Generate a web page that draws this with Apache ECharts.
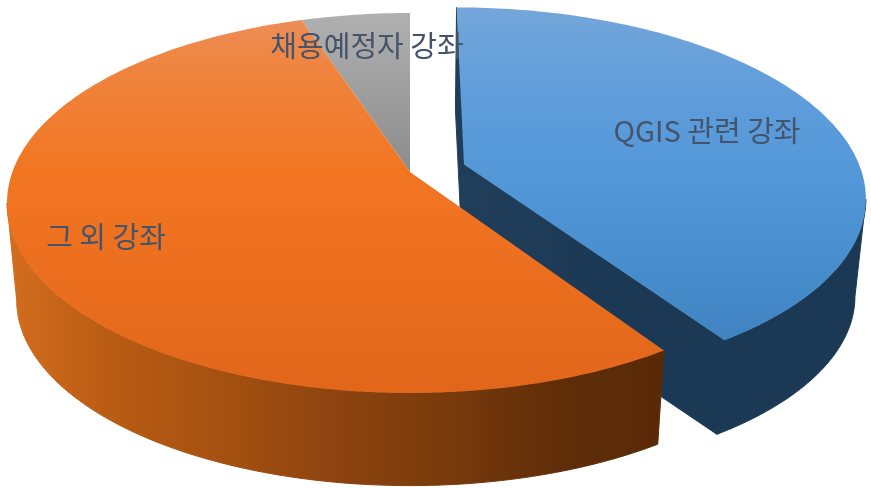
<!DOCTYPE html>
<html><head><meta charset="utf-8">
<style>html,body{margin:0;padding:0;background:#fff}#c{width:871px;height:488px}</style>
<script src="https://cdn.jsdelivr.net/npm/echarts@6/dist/echarts.min.js"></script>
</head><body><div id="c"></div>
<script>
const categories = ['QGIS 관련 강좌', '그 외 강좌', '채용예정자 강좌'];
const shares = [40.7, 54.2, 5.1];
const explode = [0.143, 0, 0];

const drawOrder = [1, 3, 2];
const labelAt = [[707, 131], [106, 237], [367, 46]];
const topStops = [
  [[0, '#74a6da'], [0.3, '#5d9cdb'], [0.55, '#5197d7'], [1, '#3f83c2']],
  [[0, '#ee8d58'], [0.12, '#ef8540'], [0.4, '#f27622'], [1, '#e2661a']],
  [[0, '#b0b0b0'], [1, '#8c8c8c']]
];
const topRange = [[7, 342], [20, 393], [13, 172]];
const wallRange = [[460, 870], [10, 660], [300, 410]];
const wallStops = [
  [[0, '#203e59'], [0.4, '#1b3954'], [1, '#1b3954']],
  [[0, '#d36d1f'], [0.14, '#bb5d14'], [0.35, '#a24f10'], [0.49, '#8f4410'], [0.66, '#7a3b0c'], [0.85, '#5f2d08'], [1, '#5a2a08']],
  [[0, '#6e6e6e'], [1, '#6e6e6e']]
];

const P = {cx: 410, cy: 172, cy2: 270, a: 397.6, b: 184.9, k: 0.163, low: 0.976};
function project(p, u, bottom) {
  const s = 1 / (1 - P.k * u), f = bottom ? P.low : 1;
  return [P.cx + P.a * f * p * s, (bottom ? P.cy2 : P.cy) + P.b * f * u * s];
}
const total = shares.reduce((s, v) => s + v, 0);
const grad = (x1, y1, x2, y2, stops) => new echarts.graphic.LinearGradient(
  x1, y1, x2, y2, stops.map(s => ({offset: s[0], color: s[1]})), true);

function renderItem(params, api) {
  const idx = params.dataIndex;
  let before = 0;
  for (let i = 0; i < idx; i++) before += shares[i];
  const start = before / total * 2 * Math.PI;
  const end = (before + api.value(0)) / total * 2 * Math.PI;
  const mid = (start + end) / 2;
  const dp = explode[idx] * Math.sin(mid), du = -explode[idx] * Math.cos(mid);
  const rim = t => [dp + Math.sin(t), du - Math.cos(t)];
  const steps = Math.max(8, Math.round((end - start) / (Math.PI / 180)));
  const angs = [];
  for (let i = 0; i <= steps; i++) angs.push(start + (end - start) * i / steps);
  const z2 = drawOrder[idx];
  const kids = [];
  const wallFill = grad(wallRange[idx][0], 0, wallRange[idx][1], 0, wallStops[idx]);
  const wallStyle = {fill: wallFill, stroke: wallFill, lineWidth: 1, lineJoin: 'round'};
  const apexT = project(dp, du, false), apexB = project(dp, du, true);
  // cut faces only show on a slice pulled out of the pie
  if (explode[idx] > 0) {
    [start, end].forEach(t => {
      const q = rim(t), a = project(q[0], q[1], false), b = project(q[0], q[1], true);
      kids.push({type: 'polygon', z2, shape: {points: [apexT, a, b, apexB]}, style: wallStyle});
    });
  }
  // outer wall: only the rim facing the viewer, bounded by the silhouette generator
  let far = 0, farX = -1;
  angs.forEach(t => {
    const q = rim(t), d = Math.abs(project(q[0], q[1], false)[0] - P.cx);
    if (d > farX) { farX = d; far = t; }
  });
  const farU = rim(far)[1];
  const front = angs.filter(t => rim(t)[1] >= farU - 1e-9);
  if (front.length > 1 && rim(far)[1] > -0.5) {
    const pts = [];
    front.forEach(t => { const q = rim(t); pts.push(project(q[0], q[1], false)); });
    front.slice().reverse().forEach(t => { const q = rim(t); pts.push(project(q[0], q[1], true)); });
    kids.push({type: 'polygon', z2, shape: {points: pts}, style: wallStyle});
  }
  const top = [apexT];
  angs.forEach(t => { const q = rim(t); top.push(project(q[0], q[1], false)); });
  kids.push({
    type: 'polygon', z2, shape: {points: top},
    style: {fill: grad(0, topRange[idx][0], 0, topRange[idx][1], topStops[idx])}
  });
  kids.push({
    type: 'text', z2: 100, x: labelAt[idx][0], y: labelAt[idx][1],
    style: {text: api.value(1), fill: '#44546a', align: 'center', verticalAlign: 'middle',
      font: '400 29px "Noto Sans CJK KR"'}
  });
  return {type: 'group', children: kids};
}

const chart = echarts.init(document.getElementById('c'), null, {renderer: 'canvas'});
chart.setOption({
  animation: false,
  backgroundColor: '#ffffff',
  series: [{
    type: 'custom',
    coordinateSystem: 'none',
    renderItem,
    silent: true,
    data: shares.map((v, i) => [v, categories[i]])
  }]
});
</script></body></html>
